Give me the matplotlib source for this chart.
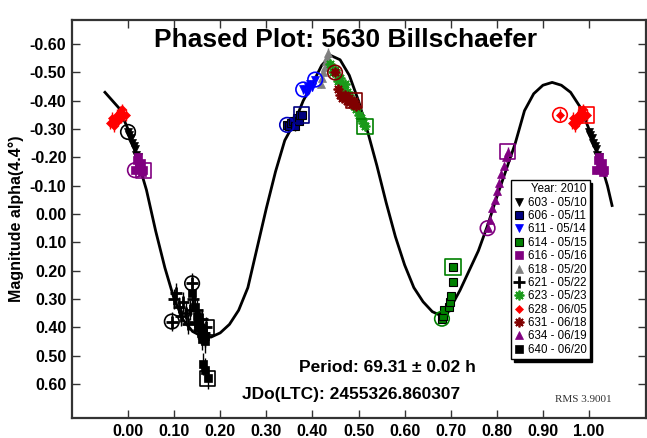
import numpy as np
import matplotlib.pyplot as plt
from matplotlib.lines import Line2D

plt.rcParams['font.family'] = ['Liberation Sans', 'DejaVu Sans']

# Fourier fit of the lightcurve (phase, magnitude)
fit_phase = [-0.05, -0.02, 0.00, 0.02, 0.04, 0.06, 0.08, 0.10, 0.12, 0.14, 0.16, 0.18,
             0.20, 0.22, 0.24, 0.26, 0.28, 0.30, 0.32, 0.34, 0.36, 0.38, 0.40, 0.42,
             0.44, 0.46, 0.48, 0.50, 0.52, 0.54, 0.56, 0.58, 0.60, 0.62, 0.64, 0.66,
             0.68, 0.70, 0.72, 0.74, 0.76, 0.78, 0.80, 0.82, 0.84, 0.86, 0.88, 0.90,
             0.92, 0.94, 0.96, 0.98, 1.00, 1.02, 1.04, 1.05]
fit_mag = [-0.43, -0.375, -0.30, -0.195, -0.085, 0.06, 0.19, 0.30, 0.375, 0.415, 0.432, 0.435,
           0.42, 0.39, 0.34, 0.26, 0.12, -0.02, -0.15, -0.26, -0.32, -0.40, -0.46, -0.525,
           -0.56, -0.545, -0.49, -0.40, -0.29, -0.17, -0.04, 0.08, 0.18, 0.26, 0.31, 0.345,
           0.36, 0.33, 0.27, 0.20, 0.13, 0.04, -0.06, -0.155, -0.25, -0.365, -0.425, -0.455,
           -0.465, -0.455, -0.43, -0.38, -0.30, -0.21, -0.10, -0.03]

# observations per session, phase in 0..1
ph_603 = [0.000, 0.003, 0.006, 0.009, 0.012, 0.015, 0.018, 0.021]
mag_603 = [-0.29, -0.28, -0.27, -0.25, -0.24, -0.23, -0.21, -0.20]

ph_606 = [0.345, 0.350, 0.354, 0.358, 0.362, 0.366, 0.370, 0.374, 0.377]
mag_606 = [-0.315, -0.31, -0.32, -0.33, -0.31, -0.34, -0.33, -0.35, -0.35]

ph_611 = [0.380, 0.385, 0.390, 0.395, 0.400, 0.406]
mag_611 = [-0.44, -0.43, -0.45, -0.46, -0.45, -0.475]

ph_614 = [0.681, 0.683, 0.686, 0.697, 0.699, 0.701, 0.705, 0.705]
mag_614 = [0.37, 0.36, 0.34, 0.33, 0.31, 0.29, 0.24, 0.187]

ph_616 = [0.015, 0.020, 0.022, 0.024, 0.026, 0.028, 0.030, 0.033]
mag_616 = [-0.155, -0.19, -0.20, -0.17, -0.16, -0.18, -0.15, -0.155]

ph_618 = [0.418, 0.421, 0.424, 0.427, 0.430, 0.432, 0.434]
mag_618 = [-0.46, -0.48, -0.50, -0.52, -0.54, -0.555, -0.57]

ph_621 = [0.095, 0.100, 0.105, 0.110, 0.115, 0.120, 0.125, 0.130, 0.135, 0.139,
          0.140, 0.145, 0.150, 0.155, 0.160, 0.165, 0.170]
mag_621 = [0.38, 0.30, 0.28, 0.33, 0.36, 0.31, 0.35, 0.39, 0.34, 0.245,
           0.30, 0.38, 0.34, 0.41, 0.37, 0.42, 0.40]

ph_623 = [0.438, 0.445, 0.450, 0.455, 0.460, 0.465, 0.470, 0.475, 0.480, 0.485,
          0.490, 0.495, 0.500, 0.505, 0.510, 0.514]
mag_623 = [-0.53, -0.50, -0.51, -0.47, -0.48, -0.45, -0.46, -0.43, -0.42, -0.40,
           -0.38, -0.37, -0.35, -0.34, -0.32, -0.31]

ph_628 = [0.937, 0.962, 0.966, 0.970, 0.973, 0.976, 0.979, 0.982, 0.985, 0.988, 0.991, 0.995]
mag_628 = [-0.35, -0.32, -0.34, -0.31, -0.33, -0.35, -0.33, -0.36, -0.34, -0.37, -0.35, -0.35]

ph_631 = [0.449, 0.455, 0.460, 0.465, 0.470, 0.475, 0.480, 0.485, 0.490, 0.495]
mag_631 = [-0.50, -0.44, -0.42, -0.41, -0.42, -0.40, -0.41, -0.39, -0.40, -0.38]

ph_634 = [0.780, 0.785, 0.790, 0.795, 0.800, 0.805, 0.810, 0.815, 0.820, 0.824]
mag_634 = [0.05, 0.02, -0.02, -0.05, -0.08, -0.11, -0.14, -0.17, -0.20, -0.22]

ph_640 = [0.139, 0.145, 0.150, 0.152, 0.155, 0.158, 0.160, 0.163, 0.166, 0.168, 0.163, 0.168, 0.173]
mag_640 = [0.28, 0.33, 0.36, 0.40, 0.38, 0.42, 0.44, 0.41, 0.45, 0.43, 0.53, 0.55, 0.58]

# first / last points of the sessions, marked with open symbols
ring_phase = [0.000, 0.345, 0.380, 0.406, 0.681, 0.015, 0.095, 0.139, 0.937, 0.449, 0.780]
ring_mag = [-0.29, -0.315, -0.44, -0.475, 0.37, -0.155, 0.38, 0.245, -0.35, -0.50, 0.05]
ring_color = ['black', '#0000c0', '#0000ff', '#0000ff', '#008000', '#800080', 'black', 'black',
              '#ff0000', '#800000', '#800080']
box_phase = [0.377, 0.705, 0.033, 0.170, 0.514, 0.995, 0.490, 0.824, 0.173]
box_mag = [-0.35, 0.187, -0.155, 0.40, -0.31, -0.35, -0.40, -0.22, 0.58]
box_color = ['#000080', '#008000', '#800080', 'black', '#008000', '#ff0000', '#800000',
             '#800080', 'black']

x_ticks = [0.0, 0.1, 0.2, 0.3, 0.4, 0.5, 0.6, 0.7, 0.8, 0.9, 1.0]
y_ticks = [-0.6, -0.5, -0.4, -0.3, -0.2, -0.1, 0.0, 0.1, 0.2, 0.3, 0.4, 0.5, 0.6]

# label, phases, mags, error, marker, face colour, edge colour, size, edge width
sessions = [
    ('603 - 05/10', ph_603, mag_603, 0.015, 'v', 'black', 'black', 6, 0.5),
    ('606 - 05/11', ph_606, mag_606, 0.015, 's', '#000080', 'black', 6, 0.8),
    ('611 - 05/14', ph_611, mag_611, 0.015, 'v', '#0000ff', '#0000ff', 6, 0.5),
    ('614 - 05/15', ph_614, mag_614, 0.015, 's', '#008000', 'black', 6, 0.8),
    ('616 - 05/16', ph_616, mag_616, 0.015, 's', '#800080', '#800080', 6, 0.5),
    ('618 - 05/20', ph_618, mag_618, 0.015, '^', '#808080', '#808080', 6, 0.5),
    ('621 - 05/22', ph_621, mag_621, 0.035, '+', 'black', 'black', 8, 2.0),
    ('623 - 05/23', ph_623, mag_623, 0.015, (8, 2, 0), '#1a9a1a', '#1a9a1a', 7, 1.3),
    ('628 - 06/05', ph_628, mag_628, 0.02, 'D', '#ff0000', '#ff0000', 4.5, 0.5),
    ('631 - 06/18', ph_631, mag_631, 0.015, (8, 2, 0), '#800000', '#800000', 7, 1.3),
    ('634 - 06/19', ph_634, mag_634, 0.015, '^', '#800080', '#800080', 6, 0.5),
    ('640 - 06/20', ph_640, mag_640, 0.04, 's', 'black', 'black', 6, 0.5),
]

fig = plt.figure(figsize=(6.47, 4.38), dpi=100)
ax = fig.add_axes([72 / 647, 20 / 438, 574 / 647, 398 / 438])

ax.plot(fit_phase, fit_mag, color='black', lw=2, zorder=2)

handles = []
for label, ph, mag, err, mk, fc, ec, ms, mew in sessions:
    ph = np.array(ph)
    mag = np.array(mag)
    # repeat points near the ends so the plot wraps past 0 and 1
    lo = ph > 0.95
    hi = ph < 0.05
    xs = np.concatenate([ph, ph[lo] - 1, ph[hi] + 1])
    ys = np.concatenate([mag, mag[lo], mag[hi]])
    ax.errorbar(xs, ys, yerr=err, fmt='none', ecolor=ec, elinewidth=1, zorder=3)
    ax.plot(xs, ys, ls='none', marker=mk, ms=ms, mfc=fc, mec=ec, mew=mew, zorder=4)
    handles.append(Line2D([], [], ls='none', marker=mk, ms=ms, mfc=fc, mec=ec, mew=mew,
                          label=label))

ax.scatter(ring_phase, ring_mag, s=110, marker='o', facecolors='none',
           edgecolors=ring_color, linewidths=1.2, zorder=5)
ax.scatter(box_phase, box_mag, s=120, marker='s', facecolors='none',
           edgecolors=box_color, linewidths=1.2, zorder=5)

ax.set_xlim(-0.1215, 1.1236)
ax.set_ylim(0.7208, -0.6855)
ax.set_xticks(x_ticks)
ax.set_yticks(y_ticks)
ax.set_xticklabels(['%.2f' % v for v in x_ticks], fontsize=11.5, fontweight='bold')
ax.set_yticklabels(['%.2f' % v for v in y_ticks], fontsize=11.5, fontweight='bold')
ax.tick_params(direction='in', length=6, width=1, top=True, right=True,
               color='#333333', pad=4)
for sp in ax.spines.values():
    sp.set_linewidth(1.6)
    sp.set_color('#333333')

ax.set_ylabel('Magnitude alpha(4.4°)', fontsize=11.5, fontweight='bold', labelpad=4)

fig.text(346 / 647, 1 - 40 / 438, 'Phased Plot: 5630 Billschaefer', ha='center', va='center',
         fontsize=19, fontweight='bold')
fig.text(387 / 647, 1 - 368 / 438, 'Period: 69.31 ± 0.02 h', ha='center', va='center',
         fontsize=12.5, fontweight='bold')
fig.text(351 / 647, 1 - 395 / 438, 'JDo(LTC): 2455326.860307', ha='center', va='center',
         fontsize=12.5, fontweight='bold')
fig.text(583 / 647, 1 - 400 / 438, 'RMS 3.9001', ha='center', va='center',
         fontsize=8, family=['Liberation Serif', 'DejaVu Serif'], color='#333333')

leg = ax.legend(handles=handles, title='Year: 2010', loc='upper left',
                bbox_to_anchor=(0.765, 0.597), fontsize=8.3, title_fontsize=8.3,
                labelspacing=0.12, handlelength=0.8, handletextpad=0.4,
                borderpad=0.25, borderaxespad=0, fancybox=False, framealpha=1,
                edgecolor='black', alignment='right',
                shadow={'color': 'black', 'alpha': 1})
leg.get_frame().set_linewidth(1.0)

fig.savefig('out.png', dpi=100)
